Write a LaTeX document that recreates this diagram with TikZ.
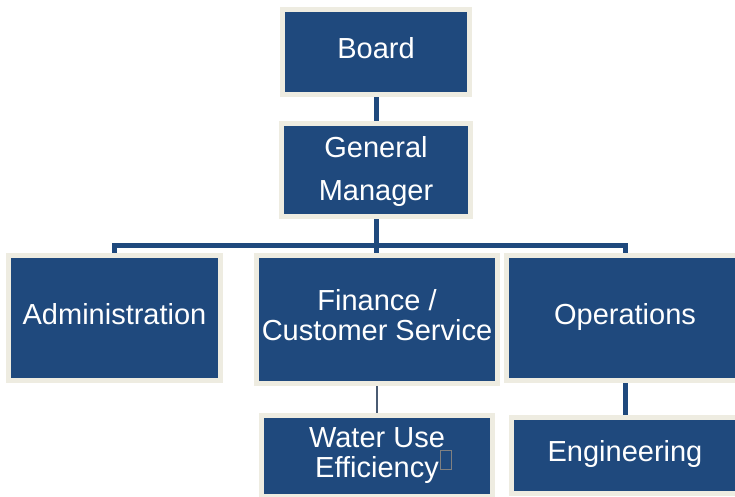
\documentclass[tikz,border=0pt]{standalone}
\usepackage{fontspec}
\setmainfont{Liberation Sans}
\definecolor{boxblue}{HTML}{1F497D}
\definecolor{boxrim}{HTML}{EEECE1}
\definecolor{thinline}{HTML}{4A5B72}
\pgfdeclarelayer{background}
\pgfsetlayers{background,main}
\newcommand{\orgtext}[1]{\begin{tabular}{@{}c@{}}#1\end{tabular}}
\begin{document}
\begin{tikzpicture}[x=1pt,y=-1pt,
  orgbox/.style={draw=boxrim, line width=5pt, fill=boxblue, text=white,
    inner sep=0pt, font=\fontsize{29}{30}\selectfont},
  widegap/.style={font=\fontsize{29}{43}\selectfont},
  link/.style={draw=boxblue, line width=5pt},
  thinlink/.style={draw=thinline, line width=2.5pt},
  tofubox/.style={draw=gray, line width=0.8pt, minimum width=11pt, minimum height=19pt, inner sep=0pt}]
\useasboundingbox (0,0) rectangle (735,496);
\coordinate (bar) at (376,245);
% nodes
\node[orgbox, minimum width=187pt, minimum height=85pt] (board) at (376,52) {\orgtext{Board}};
\node[orgbox, widegap, minimum width=189pt, minimum height=93pt] (gm) at (376,170) {\orgtext{General\\Manager}};
\node[orgbox, minimum width=212pt, minimum height=125pt] (admin) at (114.5,318) {\orgtext{Administration}};
\node[orgbox, minimum width=241pt, minimum height=128pt] (fin) at (377,319.5) {\orgtext{Finance /\\Customer Service}};
\node[orgbox, minimum width=237pt, minimum height=125pt] (ops) at (625,318) {\orgtext{Operations}};
\node[orgbox, minimum width=231pt, minimum height=81pt] (wue) at (377,456) {\orgtext{Water Use\\Efficiency}};
\node[orgbox, minimum width=227pt, minimum height=76pt] (eng) at (625,455.5) {\orgtext{Engineering}};
\node[tofubox] (tofu) at (446,460) {};
% background and connectors
\begin{pgfonlayer}{background}
\fill[white] (0,0) rectangle (735,496);
\path[link] (board.south) -- (gm.north);
\path[link] (gm.south) -- (gm.south |- fin.north);
\path[link] (admin.north) |- (bar) -| (ops.north);
\path[thinlink] (fin.south) -- (wue.north);
\path[link] (ops.south) -- (eng.north);
\end{pgfonlayer}
\end{tikzpicture}
\end{document}
